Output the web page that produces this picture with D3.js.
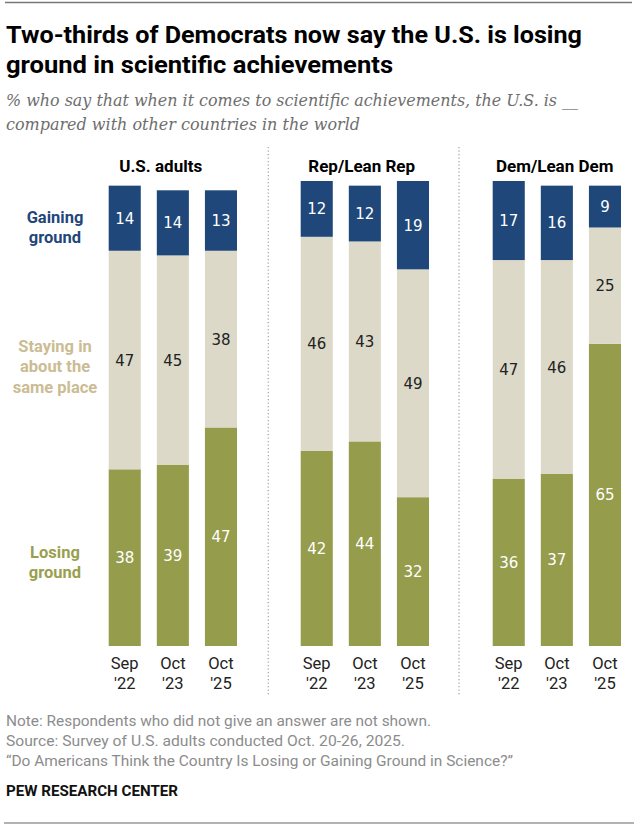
<!DOCTYPE html>
<html>
<head>
<meta charset="utf-8">
<script src="https://cdn.jsdelivr.net/npm/d3@7"></script>
<style>
  body { margin: 0; background: #fff; }
  svg { display: block; }
  .title { font-family: "Liberation Sans Narrow", "Roboto", sans-serif; font-weight: bold; fill: #000; }
  .sub { font-family: "DejaVu Serif", serif; font-style: italic; fill: #6e6e6e; }
  .frank { font-family: "Liberation Sans Narrow", "Roboto", sans-serif; }
  .num { font-family: "DejaVu Sans", sans-serif; }
</style>
</head>
<body>
<svg id="chart" width="639" height="828"></svg>
<script>
const groups = ["U.S. adults", "Rep/Lean Rep", "Dem/Lean Dem"];
const waves = ["Sep '22", "Oct '23", "Oct '25"];
const losing  = [[38, 39, 47], [42, 44, 32], [36, 37, 65]];
const staying = [[47, 45, 38], [46, 43, 49], [47, 46, 25]];
const gaining = [[14, 14, 13], [12, 12, 19], [17, 16, 9]];
const series = ["Losing ground", "Staying in about the same place", "Gaining ground"];
const titleLines = ["Two-thirds of Democrats now say the U.S. is losing", "ground in scientific achievements"];
const subLines = ["% who say that when it comes to scientific achievements, the U.S. is __", "compared with other countries in the world"];
const notes = [
  "Note: Respondents who did not give an answer are not shown.",
  "Source: Survey of U.S. adults conducted Oct. 20-26, 2025.",
  "\u201cDo Americans Think the Country Is Losing or Gaining Ground in Science?\u201d"
];

const colors = { "Losing ground": "#959c4b", "Staying in about the same place": "#dcd9c9", "Gaining ground": "#1f477a" };
const labelColors = { "Losing ground": "#9a9f4f", "Staying in about the same place": "#cbbc94", "Gaining ground": "#1f477a" };
const textColors = { "Losing ground": "#fff", "Staying in about the same place": "#222", "Gaining ground": "#fff" };

const svg = d3.select("#chart");

// squeeze a text line to the width it has in the original
function fitLine(sel, w) {
  sel.attr("textLength", w).attr("lengthAdjust", "spacingAndGlyphs");
}

// rules
svg.append("line").attr("x1", 5).attr("x2", 632).attr("y1", 2.5).attr("y2", 2.5)
  .attr("stroke", "#777").attr("stroke-width", 1.5);
svg.append("line").attr("x1", 4).attr("x2", 634).attr("y1", 823).attr("y2", 823)
  .attr("stroke", "#999").attr("stroke-width", 1.5);

// title + subtitle
const titleW = [576, 387];
titleLines.forEach((t, i) => {
  svg.append("text").attr("class", "title").attr("font-size", 24.5)
    .attr("x", 6).attr("y", 43 + i * 30).text(t).call(fitLine, titleW[i]);
});
const subW = [572, 354];
subLines.forEach((t, i) => {
  svg.append("text").attr("class", "sub").attr("font-size", 16)
    .attr("x", 6).attr("y", 106 + i * 24).text(t).call(fitLine, subW[i]);
});

const y = d3.scaleLinear().domain([0, 100]).range([646, 181]);
const gx = d3.scaleBand().domain(groups).range([108.7, 108.7 + 192 * 3]);
const x = d3.scaleBand().domain(waves).range([0, 128.3]).paddingInner(1 / 3);

// dotted dividers
[268.3, 459].forEach(xd => {
  svg.append("line").attr("x1", xd).attr("x2", xd).attr("y1", 147).attr("y2", 696)
    .attr("stroke", "#aaa").attr("stroke-width", 1.3).attr("stroke-dasharray", "1.3,2.2");
});

const groupTitleX = [52, 61, 62];

groups.forEach((g, gi) => {
  const panel = svg.append("g").attr("transform", `translate(${gx(g)},0)`);

  panel.append("text").attr("class", "frank").attr("font-weight", "bold").attr("font-size", 17)
    .attr("x", groupTitleX[gi]).attr("y", 172).attr("text-anchor", "middle").text(g);

  const rows = waves.map((w, wi) => ({
    wave: w,
    "Losing ground": losing[gi][wi],
    "Staying in about the same place": staying[gi][wi],
    "Gaining ground": gaining[gi][wi]
  }));
  const stacked = d3.stack().keys(series)(rows);

  stacked.forEach(layer => {
    const s = layer.key;
    panel.selectAll(null).data(layer).join("rect")
      .attr("x", d => x(d.data.wave))
      .attr("width", x.bandwidth())
      .attr("y", d => y(d[1]))
      .attr("height", d => y(d[0]) - y(d[1]))
      .attr("fill", colors[s]);
    panel.selectAll(null).data(layer).join("text")
      .attr("class", "num")
      .attr("x", d => x(d.data.wave) + x.bandwidth() / 2)
      .attr("y", d => (y(d[0]) + y(d[1])) / 2 + 5.5)
      .attr("text-anchor", "middle")
      .attr("font-size", 15)
      .attr("fill", textColors[s])
      .text(d => d.data[s]);
  });

  // wave labels
  waves.forEach(w => {
    const [m, yr] = w.split(" ");
    const t = panel.append("text").attr("class", "frank").attr("font-size", 16.5)
      .attr("text-anchor", "middle").attr("fill", "#222");
    const cx = x(w) + x.bandwidth() / 2;
    t.append("tspan").attr("x", cx).attr("y", 668.5).text(m);
    t.append("tspan").attr("x", cx).attr("y", 688.5).text(yr);
  });
});

// left series labels
const leftLabels = [
  { s: "Gaining ground", lines: ["Gaining", "ground"], y0: 223 },
  { s: "Staying in about the same place", lines: ["Staying in", "about the", "same place"], y0: 352 },
  { s: "Losing ground", lines: ["Losing", "ground"], y0: 558 }
];
leftLabels.forEach(l => {
  const t = svg.append("text").attr("class", "frank").attr("font-weight", "bold").attr("font-size", 16.5)
    .attr("text-anchor", "middle").attr("fill", labelColors[l.s]);
  l.lines.forEach((ln, i) => t.append("tspan").attr("x", 55).attr("y", l.y0 + i * 20.3).text(ln));
});

// notes
const noteW = [425, 399, 507];
notes.forEach((n, i) => {
  svg.append("text").attr("class", "frank").attr("font-size", 14.5).attr("fill", "#8c8c8c")
    .attr("x", 6).attr("y", 726 + i * 20).text(n).call(fitLine, noteW[i]);
});
svg.append("text").attr("class", "frank").attr("font-weight", "bold").attr("font-size", 15)
  .attr("fill", "#111").attr("x", 6).attr("y", 796).text("PEW RESEARCH CENTER").call(fitLine, 172);
</script>
</body>
</html>
